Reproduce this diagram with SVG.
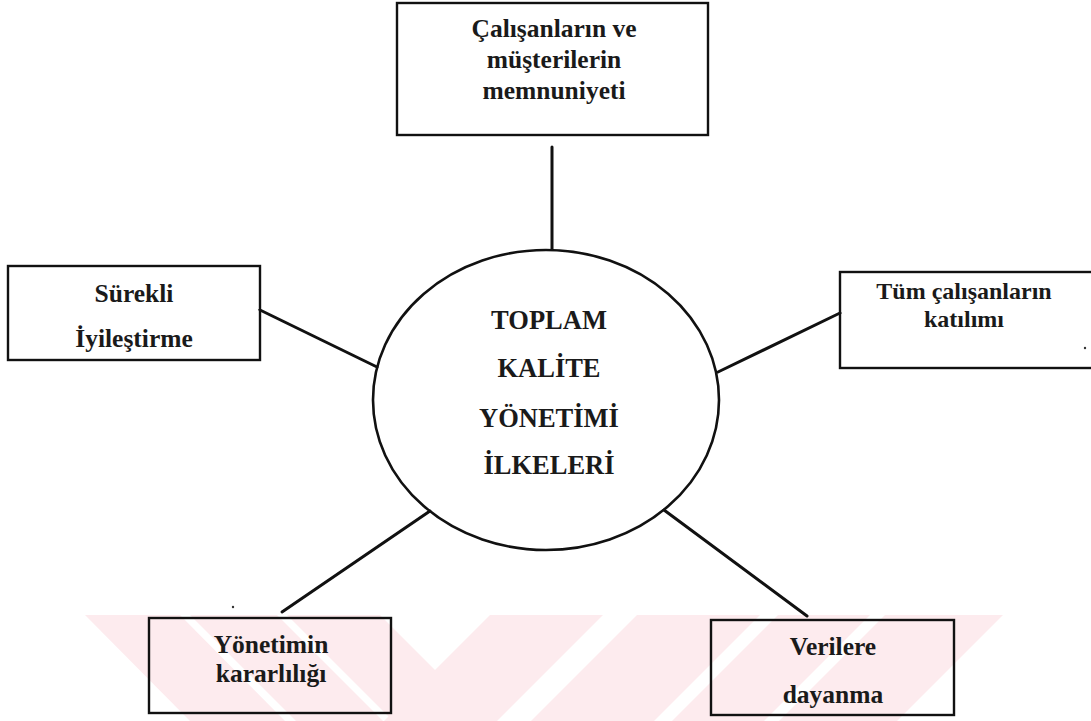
<svg xmlns="http://www.w3.org/2000/svg" width="1091" height="721" viewBox="0 0 1091 721">
  <style>
    .box { fill: none; stroke: #111; stroke-width: 2.4; }
    .hub { fill: none; stroke: #111; stroke-width: 2.6; }
    .link { stroke: #111; stroke-width: 3; stroke-linecap: round; fill: none; }
    .label { font-family: "Liberation Serif", "DejaVu Serif", serif; font-weight: bold; font-size: 25.5px; fill: #1a1a1a; text-anchor: middle; }
    .tight { font-size: 24px; }
    .title { font-family: "Liberation Serif", "DejaVu Serif", serif; font-weight: bold; font-size: 26.5px; fill: #1a1a1a; text-anchor: middle; }
    .stripe { fill: #fdebee; }
  </style>

  <rect x="0" y="0" width="1091" height="721" fill="#ffffff"/>

  <!-- faint diagonal stripes along the bottom edge -->
  <g id="backdrop-stripes">
    <polygon class="stripe" points="85,615 180,615 285,721 190,721"/>
    <polygon class="stripe" points="190,615 277,615 383,721 296,721"/>
    <polygon class="stripe" points="287,615 380,615 486,721 393,721"/>
    <polygon class="stripe" points="490,615 603,615 497,721 384,721"/>
    <polygon class="stripe" points="637,615 760,615 654,721 531,721"/>
    <polygon class="stripe" points="778,615 870,615 764,721 672,721"/>
    <polygon class="stripe" points="885,615 1003,615 897,721 779,721"/>
  </g>

  <!-- connectors between the hub and the surrounding boxes -->
  <g id="connectors">
    <line class="link" x1="552" y1="147" x2="552" y2="249"/>
    <line class="link" x1="260" y1="310" x2="377" y2="367"/>
    <line class="link" x1="718" y1="372" x2="840" y2="313"/>
    <line class="link" x1="282" y1="612" x2="430" y2="511"/>
    <line class="link" x1="664" y1="510" x2="807" y2="616"/>
  </g>

  <g id="hub">
    <ellipse class="hub" cx="546" cy="400" rx="173" ry="150"/>
    <text class="title" x="549" y="329">TOPLAM</text>
    <text class="title" x="549" y="377">KALİTE</text>
    <text class="title" x="549" y="427">YÖNETİMİ</text>
    <text class="title" x="549" y="474">İLKELERİ</text>
  </g>

  <g id="node-memnuniyet">
    <rect class="box" x="397" y="3" width="311" height="132"/>
    <text class="label" x="554" y="37">Çalışanların ve</text>
    <text class="label" x="554" y="68">müşterilerin</text>
    <text class="label" x="554" y="99">memnuniyeti</text>
  </g>

  <g id="node-iyilestirme">
    <rect class="box" x="8" y="266" width="252" height="94"/>
    <text class="label" x="134" y="302">Sürekli</text>
    <text class="label" x="134" y="347">İyileştirme</text>
  </g>

  <g id="node-katilim">
    <rect class="box" x="840" y="272" width="260" height="96"/>
    <text class="label tight" x="964" y="299">Tüm çalışanların</text>
    <text class="label tight" x="964" y="327">katılımı</text>
  </g>

  <g id="node-kararlilik">
    <rect class="box" x="149" y="618" width="242" height="95"/>
    <text class="label" x="271" y="653">Yönetimin</text>
    <text class="label" x="271" y="682">kararlılığı</text>
  </g>

  <g id="node-veri">
    <rect class="box" x="711" y="620" width="243" height="95"/>
    <text class="label" x="833" y="655">Verilere</text>
    <text class="label" x="833" y="703">dayanma</text>
  </g>

  <!-- stray specks -->
  <circle cx="233" cy="607" r="1.2" fill="#333"/>
  <circle cx="1085" cy="348" r="1.2" fill="#333"/>
</svg>
